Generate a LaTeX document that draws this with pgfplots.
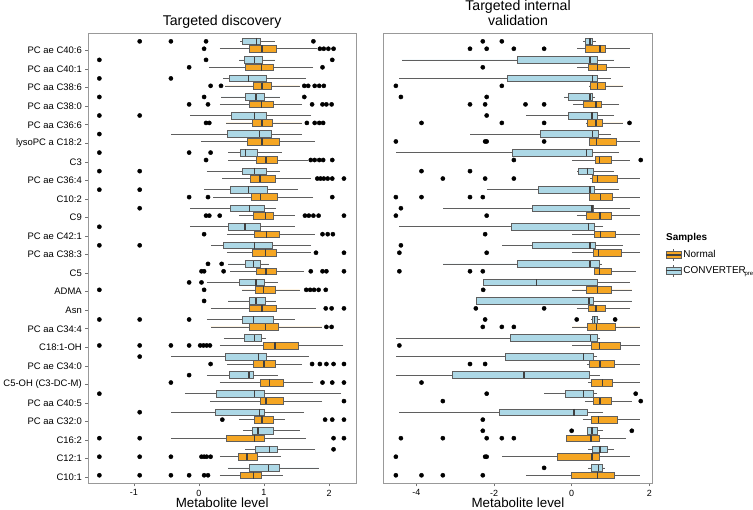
\documentclass[border=0pt]{standalone}
\usepackage{fontspec}
\setmainfont{Liberation Sans}
\usepackage{pgfplots}
\pgfplotsset{compat=1.18}
\usepgfplotslibrary{statistics}
\definecolor{boxorange}{RGB}{245,166,35}
\definecolor{boxblue}{RGB}{173,216,230}
\definecolor{boxedge}{RGB}{95,95,95}
\pgfplotsset{
  boxplot/box extend=0.36,
  boxplot/whisker extend=0,
  boxplot/every median/.style={line width=1.3bp, draw=black!75},
  bstyle/.style={draw=boxedge, line width=0.6bp},
  panel/.style={
    scale only axis, height=450bp, y dir=reverse,
    ymin=-0.633, ymax=23.633,
    tick align=outside, xtick pos=left, ytick pos=left,
    major tick length=3bp,
    tick style={draw=black!55, line width=0.6bp},
    axis line style={draw=black!40, line width=0.8bp},
    xticklabel style={font=\fontsize{9}{11}\selectfont},
    yticklabel style={font=\fontsize{9.5}{11}\selectfont},
    xlabel={Metabolite level},
    xlabel style={font=\fontsize{13.4}{15}\selectfont, inner sep=0pt, at={(0.5,0)}, anchor=base, yshift=-24.4bp},
    every axis title shift=0pt,
    /pgf/number format/assume math mode=true,
  },
}
\newcommand{\Bl}[6]{\addplot[bstyle, fill=boxblue, boxplot prepared={draw position={#1-0.2}, lower whisker=#2, lower quartile=#3, median=#4, upper quartile=#5, upper whisker=#6}] coordinates {};}
\newcommand{\Or}[6]{\addplot[bstyle, fill=boxorange, boxplot prepared={draw position={#1+0.2}, lower whisker=#2, lower quartile=#3, median=#4, upper quartile=#5, upper whisker=#6}] coordinates {};}
\begin{document}
\begin{tikzpicture}
\useasboundingbox (0,0) rectangle (753bp,510bp);
% ---------------- left panel ----------------
\begin{axis}[panel,
  at={(88.3bp,26.7bp)}, anchor=south west, width=267.7bp,
  xmin=-1.70, xmax=2.415,
  xtick={-1,0,1,2}, xticklabels={-1,0,1,2},
  ytick={0.3,1.3,2.3,3.3,4.3,5.3,6.3,7.3,8.3,9.3,10.3,11.3,12.3,13.3,14.3,15.3,16.3,17.3,18.3,19.3,20.3,21.3,22.3,23.3},
  yticklabels={PC ae C40:6,PC aa C40:1,PC aa C38:6,PC aa C38:0,PC aa C36:6,lysoPC a C18:2,C3,PC ae C36:4,C10:2,C9,PC ae C42:1,PC aa C38:3,C5,ADMA,Asn,PC aa C34:4,C18:1-OH,PC ae C34:0,C5-OH (C3-DC-M),PC aa C40:5,PC aa C32:0,C16:2,C12:1,C10:1},
  title={Targeted discovery},
  title style={font=\fontsize{14.2}{16}\selectfont, inner sep=0pt, at={(0.5,1)}, anchor=south, yshift=5bp},
]
\Bl{0}{0.63}{0.67}{0.89}{0.95}{1.17}   \Or{0}{0.32}{0.77}{0.97}{1.19}{1.81}
\Bl{1}{0.62}{0.70}{0.86}{0.98}{1.17}   \Or{1}{0.15}{0.71}{0.96}{1.14}{1.76}
\Bl{2}{0.37}{0.47}{0.76}{1.03}{1.65}   \Or{2}{0.40}{0.83}{0.97}{1.12}{1.55}
\Bl{3}{0.34}{0.72}{0.88}{1.01}{1.25}   \Or{3}{0.32}{0.78}{0.96}{1.15}{1.58}
\Bl{4}{-0.14}{0.50}{0.85}{1.04}{1.73}  \Or{4}{0.42}{0.82}{0.97}{1.13}{1.58}
\Bl{5}{-0.43}{0.44}{0.93}{1.12}{1.58}  \Or{5}{0.04}{0.74}{0.97}{1.24}{1.78}
\Bl{6}{0.45}{0.63}{0.72}{0.90}{1.27}   \Or{6}{0.45}{0.88}{1.03}{1.21}{1.68}
\Bl{7}{0.12}{0.67}{0.86}{1.04}{1.25}   \Or{7}{0.36}{0.79}{0.94}{1.18}{1.73}
\Bl{8}{0.08}{0.48}{0.76}{1.05}{1.52}   \Or{8}{0.22}{0.81}{0.95}{1.21}{1.76}
\Bl{9}{-0.14}{0.49}{0.78}{1.00}{1.19}  \Or{9}{0.62}{0.84}{1.02}{1.14}{1.47}
\Bl{10}{-0.14}{0.45}{0.71}{0.94}{1.47} \Or{10}{0.43}{0.85}{1.04}{1.24}{1.78}
\Bl{11}{0.18}{0.38}{0.86}{1.13}{1.73}  \Or{11}{0.43}{0.82}{1.02}{1.19}{1.73}
\Bl{12}{0.45}{0.71}{0.84}{0.95}{1.07}  \Or{12}{0.48}{0.88}{1.03}{1.19}{1.62}
\Bl{13}{0.12}{0.62}{0.88}{1.00}{1.21}  \Or{13}{0.66}{0.87}{0.99}{1.17}{1.55}
\Bl{14}{0.45}{0.77}{0.88}{1.02}{1.19}  \Or{14}{0.18}{0.77}{0.97}{1.19}{1.80}
\Bl{15}{0.12}{0.66}{0.84}{1.14}{1.47}  \Or{15}{0.18}{0.77}{1.02}{1.22}{1.90}
\Bl{16}{0.38}{0.70}{0.85}{0.96}{1.03}  \Or{16}{0.32}{0.99}{1.17}{1.53}{2.22}
\Bl{17}{-0.43}{0.41}{0.92}{1.03}{1.69} \Or{17}{0.43}{0.83}{1.00}{1.17}{1.58}
\Bl{18}{0.12}{0.47}{0.77}{0.84}{1.21}  \Or{18}{0.32}{0.95}{1.08}{1.29}{1.76}
\Bl{19}{-0.22}{0.27}{0.85}{1.00}{2.19} \Or{19}{0.17}{0.95}{1.03}{1.30}{1.90}
\Bl{20}{-0.43}{0.25}{0.93}{1.00}{1.62} \Or{20}{0.62}{0.85}{0.97}{1.14}{1.32}
\Bl{21}{0.68}{0.82}{0.91}{1.14}{1.55}  \Or{21}{-0.43}{0.42}{0.85}{1.00}{1.65}
\Bl{22}{0.71}{0.86}{1.08}{1.21}{1.79}  \Or{22}{0.32}{0.61}{0.74}{0.90}{1.26}
\Bl{23}{0.44}{0.77}{1.07}{1.23}{1.84}  \Or{23}{0.32}{0.64}{0.84}{0.96}{1.29}
\addplot[only marks, mark=*, mark size=2.1bp, black] coordinates {
(-0.91,-0.2)(-0.43,-0.2)(0.11,-0.2)(1.76,-0.2)
(0.08,0.2)(1.86,0.2)(1.92,0.2)(1.99,0.2)(2.07,0.2)
(-1.53,0.8)(0.11,0.8)(2.05,0.8)
(-0.15,1.2)(1.90,1.2)
(-1.53,1.8)(-0.43,1.8)
(0.18,2.2)(0.34,2.2)(1.62,2.2)(1.68,2.2)(1.78,2.2)(1.85,2.2)(1.92,2.2)
(-1.53,2.8)(0.08,2.8)(1.62,2.8)
(-0.15,3.2)(0.14,3.2)(1.74,3.2)(1.90,3.2)(1.96,3.2)(2.04,3.2)
(-1.53,3.8)(-0.91,3.8)
(0.11,4.2)(0.16,4.2)(1.66,4.2)(1.78,4.2)(1.85,4.2)(1.91,4.2)
(-1.53,4.8)
(-1.53,5.8)(-0.15,5.8)(0.18,5.8)
(0.11,6.2)(1.72,6.2)(1.78,6.2)(1.85,6.2)(1.91,6.2)(2.05,6.2)
(-1.53,6.8)(-0.91,6.8)
(1.82,7.2)(1.87,7.2)(1.92,7.2)(1.98,7.2)(2.05,7.2)(2.23,7.2)
(-1.53,7.8)(-0.91,7.8)
(-0.15,8.2)(0.14,8.2)(2.05,8.2)
(-0.91,8.8)
(0.11,9.2)(0.16,9.2)(0.32,9.2)(1.63,9.2)(1.69,9.2)(1.76,9.2)(1.84,9.2)(2.23,9.2)
(-1.53,9.8)
(0.08,10.2)(1.90,10.2)(1.98,10.2)(2.06,10.2)
(-1.53,10.8)(-0.91,10.8)
(1.80,11.2)(2.23,11.2)
(0.14,11.8)(0.35,11.8)
(0.04,12.2)(0.08,12.2)(0.38,12.2)(1.72,12.2)(1.90,12.2)(1.96,12.2)(2.23,12.2)
(-0.15,12.8)(0.04,12.8)
(-1.53,13.2)(0.08,13.2)(1.65,13.2)(1.71,13.2)(1.77,13.2)(1.84,13.2)(1.95,13.2)
(0.08,13.8)
(1.95,14.2)(2.04,14.2)(2.23,14.2)
(-1.53,14.8)(-0.91,14.8)(-0.15,14.8)
(1.96,15.2)(2.04,15.2)
(-1.53,16.2)(-0.91,16.2)(-0.43,16.2)(-0.15,16.2)(0.02,16.2)(0.07,16.2)(0.12,16.2)(0.17,16.2)
(-0.91,16.8)
(0.18,17.2)(1.74,17.2)(1.86,17.2)(1.96,17.2)(2.07,17.2)(2.23,17.2)
(-0.15,17.8)
(-0.43,18.2)(1.90,18.2)(2.05,18.2)(2.23,18.2)
(-1.53,18.8)
(2.23,19.2)
(-0.91,19.8)
(0.36,20.2)(1.94,20.2)(2.05,20.2)(2.23,20.2)
(-1.53,21.2)(-0.91,21.2)(2.07,21.2)(2.23,21.2)
(2.07,21.8)
(-1.53,22.2)(-0.91,22.2)(-0.43,22.2)(0.04,22.2)(0.08,22.2)(0.12,22.2)(0.18,22.2)
(-1.53,23.2)(-0.91,23.2)(-0.43,23.2)(-0.15,23.2)(0.08,23.2)(0.14,23.2)
};
\end{axis}
% ---------------- right panel ----------------
\begin{axis}[panel,
  at={(383.3bp,26.7bp)}, anchor=south west, width=269.4bp,
  xmin=-4.854, xmax=2.088,
  xtick={-4,-2,0,2}, xticklabels={-4,-2,0,2},
  ytick=\empty,
  title={Targeted internal\\validation},
  title style={font=\fontsize{14.2}{15.5}\selectfont, align=center, inner sep=0pt, at={(0.5,1)}, anchor=south, yshift=7bp},
  legend style={at={(1.046,0.522)}, anchor=north west, draw=none, fill=none,
    font=\fontsize{10}{12}\selectfont, row sep=3bp, inner sep=0pt},
  legend cell align=left,
]
\addlegendimage{legend image code/.code={
  \draw[boxedge, line width=0.6bp] (7.5bp,-6bp) -- (7.5bp,6bp);
  \draw[boxedge, line width=0.6bp, fill=boxorange] (0bp,-3.5bp) rectangle (15bp,3.5bp);
  \draw[black!75, line width=1.2bp] (0bp,0bp) -- (15bp,0bp);}}
\addlegendentry{Normal}
\addlegendimage{legend image code/.code={
  \draw[boxedge, line width=0.6bp] (7.5bp,-6bp) -- (7.5bp,6bp);
  \draw[boxedge, line width=0.6bp, fill=boxblue] (0bp,-3.5bp) rectangle (15bp,3.5bp);
  \draw[black!75, line width=1.2bp] (0bp,0bp) -- (15bp,0bp);}}
\addlegendentry{CONVERTER\kern-1.2bp\raisebox{-2.2bp}{\fontsize{6}{6}\selectfont pre}}
\Bl{0}{0.30}{0.34}{0.47}{0.54}{0.63}    \Or{0}{0.15}{0.36}{0.73}{0.87}{1.49}
\Bl{1}{-4.38}{-1.40}{0.47}{0.67}{1.10}  \Or{1}{0.15}{0.43}{0.67}{0.88}{1.49}
\Bl{2}{-4.44}{-1.65}{0.54}{0.67}{1.01}  \Or{2}{0.45}{0.47}{0.67}{0.87}{1.33}
\Bl{3}{-0.21}{-0.09}{0.47}{0.54}{0.60}  \Or{3}{0.03}{0.30}{0.63}{0.77}{1.23}
\Bl{4}{-1.18}{-0.09}{0.52}{0.67}{1.10}  \Or{4}{0.37}{0.40}{0.63}{0.80}{1.33}
\Bl{5}{-2.62}{-0.80}{0.54}{0.69}{1.01}  \Or{5}{0.46}{0.46}{0.64}{1.16}{1.76}
\Bl{6}{-4.53}{-1.52}{0.39}{0.54}{1.23}  \Or{6}{0.02}{0.60}{0.71}{1.03}{1.49}
\Bl{7}{0.15}{0.17}{0.40}{0.56}{1.10}    \Or{7}{0.46}{0.54}{0.67}{1.18}{1.76}
\Bl{8}{-2.19}{-0.86}{0.47}{0.58}{1.23}  \Or{8}{0.46}{0.46}{0.75}{1.04}{1.76}
\Bl{9}{-3.31}{-1.01}{0.52}{0.56}{1.49}  \Or{9}{0.13}{0.37}{0.73}{1.02}{1.76}
\Bl{10}{-4.44}{-1.55}{0.44}{0.58}{0.82} \Or{10}{0.02}{0.58}{0.75}{1.12}{1.76}
\Bl{11}{-1.79}{-1.01}{0.47}{0.61}{1.33} \Or{11}{0.02}{0.56}{0.70}{1.28}{1.76}
\Bl{12}{-3.31}{-1.40}{0.47}{0.71}{0.77} \Or{12}{0.58}{0.58}{0.71}{1.02}{1.65}
\Bl{13}{-2.28}{-2.28}{-0.90}{0.67}{1.49} \Or{13}{0.02}{0.37}{0.66}{1.01}{1.55}
\Bl{14}{-2.47}{-2.47}{0.45}{0.56}{1.55} \Or{14}{0.13}{0.44}{0.63}{0.87}{1.49}
\Bl{15}{0.50}{0.52}{0.59}{0.67}{0.73}   \Or{15}{0.02}{0.41}{0.64}{1.13}{1.76}
\Bl{16}{-4.53}{-1.57}{0.49}{0.67}{0.73} \Or{16}{0.02}{0.51}{0.71}{1.26}{1.76}
\Bl{17}{-4.53}{-1.72}{0.30}{0.57}{0.64} \Or{17}{0.39}{0.46}{0.73}{1.09}{1.76}
\Bl{18}{-4.53}{-3.07}{-1.23}{0.46}{0.73} \Or{18}{0.43}{0.51}{0.80}{1.04}{1.76}
\Bl{19}{-0.71}{-0.17}{0.30}{0.57}{0.64} \Or{19}{0.34}{0.56}{0.73}{1.02}{1.55}
\Bl{20}{-4.44}{-1.86}{0.06}{0.39}{0.82} \Or{20}{0.28}{0.51}{0.69}{1.18}{1.76}
\Bl{21}{0.41}{0.41}{0.52}{0.66}{0.82}   \Or{21}{-0.13}{-0.13}{0.50}{0.71}{1.40}
\Bl{22}{0.43}{0.54}{0.73}{0.92}{1.10}   \Or{22}{-1.80}{-0.37}{0.52}{0.71}{1.49}
\Bl{23}{0.43}{0.51}{0.69}{0.78}{0.86}   \Or{23}{-1.18}{-0.02}{0.67}{1.09}{1.76}
\addplot[only marks, mark=*, mark size=2.1bp, black] coordinates {
(-2.29,-0.2)(-1.80,-0.2)
(-2.62,0.2)(-2.19,0.2)(-1.49,0.2)(-0.71,0.2)
(-2.29,1.2)
(-4.53,2.2)(-1.80,2.2)
(-4.40,2.8)(-2.19,2.8)
(-2.62,3.2)(-2.23,3.2)(-1.19,3.2)(-0.71,3.2)
(-2.19,3.8)
(-3.87,4.2)(-1.80,4.2)(-0.71,4.2)(1.49,4.2)
(-4.53,5.2)(-2.23,5.2)(-2.19,5.2)(-0.71,5.2)
(-1.49,6.2)(1.78,6.2)
(-3.87,6.8)(-2.62,6.8)
(-3.32,7.2)(-2.23,7.2)(-1.49,7.2)
(-4.53,8.2)(-3.87,8.2)(-2.62,8.2)(-2.29,8.2)
(-4.40,8.8)
(-4.53,9.2)(-2.19,9.2)
(-2.23,10.2)
(-4.40,10.8)
(-4.44,11.2)(-2.19,11.2)
(-4.44,12.2)(-2.62,12.2)(-2.29,12.2)
(-2.28,13.2)
(-2.47,14.2)(-0.71,14.2)
(-2.23,14.8)(0.13,14.8)(1.12,14.8)
(-2.29,15.2)(-1.80,15.2)(-1.49,15.2)
(-4.44,16.2)
(-2.62,17.2)(-2.23,17.2)
(-3.87,18.2)
(-2.19,18.8)(1.65,18.8)
(-3.32,19.2)(1.78,19.2)
(-2.29,20.2)
(-2.29,20.8)(0.00,20.8)(1.55,20.8)
(-4.40,21.2)(-3.32,21.2)(-2.19,21.2)(-1.80,21.2)(-1.49,21.2)
(-4.53,22.2)(-2.23,22.2)(-2.19,22.2)
(-0.71,22.8)
(-4.53,23.2)(-3.87,23.2)(-3.32,23.2)(-2.29,23.2)
};
\end{axis}
\node[anchor=west, inner sep=0pt, font=\bfseries\fontsize{10}{12}\selectfont] at (666bp,272bp) {Samples};
\end{tikzpicture}
\end{document}
